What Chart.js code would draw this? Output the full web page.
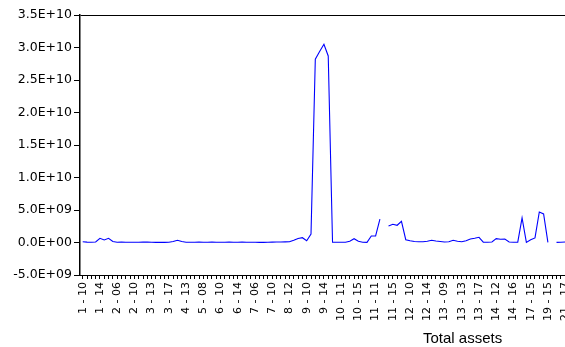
<!DOCTYPE html>
<html>
<head>
<meta charset="utf-8">
<script src="https://cdn.jsdelivr.net/npm/chart.js@4.4.1/dist/chart.umd.min.js"></script>
<style>
  html, body { margin: 0; padding: 0; background: #fff; }
  body { width: 565px; height: 347px; overflow: hidden; position: relative; }
  #wrap { position: absolute; left: 0; top: 0; width: 590px; height: 347px; }
  #title { position: absolute; left: 423px; top: 330px; font-family: "Liberation Sans", Arial, sans-serif;
           font-size: 15px; line-height: 1; color: #000; white-space: nowrap; }
</style>
</head>
<body>
<div id="wrap"><canvas id="c" width="590" height="347"></canvas></div>
<div id="title">Total assets</div>
<script>
// Tick labels (one every 4 observations)
const tickLabels = ['1 - 10','1 - 14','2 - 06','2 - 10','3 - 13','3 - 17','4 - 13','5 - 08','6 - 10','6 - 14',
  '7 - 06','7 - 10','8 - 12','9 - 10','9 - 14','10 - 11','10 - 15','11 - 11','11 - 15','12 - 10','12 - 14',
  '13 - 09','13 - 13','13 - 17','14 - 12','14 - 16','17 - 15','19 - 15','21 - 17'];

// Total assets, one value per observation (null = missing)
const totalAssets = [
  1.2e8, 0.6e8, 0.5e8, 0.8e8, 6.5e8, 3.9e8, 6.5e8, 1.5e8, 0.4e8, 0.8e8,
  0.5e8, 0.3e8, 0.4e8, 0.5e8, 0.6e8, 0.8e8, 0.4e8, 0.2e8, 0.2e8, 0.2e8,
  0.3e8, 1.5e8, 3.4e8, 1.5e8, 0.5e8, 0.4e8, 0.3e8, 0.8e8, 0.5e8, 0.4e8,
  0.6e8, 0.5e8, 0.4e8, 0.5e8, 0.6e8, 0.5e8, 0.4e8, 0.5e8, 0.4e8, 0.3e8,
  0.3e8, 0.2e8, 0.2e8, 0.4e8, 0.6e8, 0.8e8, 0.8e8, 1.0e8, 1.2e8, 3.5e8,
  6.2e8, 7.4e8, 2.8e8, 1.3e9, 2.82e10, 2.94e10, 3.05e10, 2.87e10, 0.5e8, 0.5e8,
  0.5e8, 0.5e8, 2.0e8, 5.9e8, 2.0e8, 0.5e8, 0.2e8, 1.0e9, 1.0e9, 3.6e9,
  null, 2.54e9, 2.8e9, 2.65e9, 3.26e9, 4.3e8, 2.8e8, 1.5e8, 1.2e8, 1.2e8,
  1.8e8, 3.4e8, 2.3e8, 1.5e8, 0.8e8, 1.1e8, 3.4e8, 1.8e8, 1.2e8, 2.8e8,
  5.4e8, 6.5e8, 8.0e8, 0.5e8, 0.5e8, 0.8e8, 5.9e8, 5.0e8, 5.4e8, 0.8e8,
  0.5e8, 0.5e8, 3.8e9, 0.2e8, 4.3e8, 7.0e8, 4.7e9, 4.4e9, 0.2e8, null,
  0.2e8, 0.4e8, 0.8e8
];

const labelEvery = 4;

function sci(v) {
  const s = Number(v).toExponential(1);           // e.g. "3.5e+10", "5.0e+9"
  const m = s.match(/^(-?[\d.]+)e([+-])(\d+)$/);
  if (!m) return s;
  return m[1] + 'E' + m[2] + (m[3].length < 2 ? '0' + m[3] : m[3]);
}

const points = totalAssets.map((v, i) => ({ x: i, y: v }));

new Chart(document.getElementById('c'), {
  type: 'line',
  data: {
    datasets: [{
      data: points,
      borderColor: '#0000ff',
      borderWidth: 1.1,
      pointRadius: 0,
      tension: 0,
      spanGaps: false,
      fill: false
    }]
  },
  options: {
    responsive: false,
    animation: false,
    events: [],
    layout: { padding: { top: 15, right: 10, bottom: 0, left: 0 } },
    plugins: { legend: { display: false }, tooltip: { enabled: false }, title: { display: false } },
    scales: {
      x: {
        type: 'linear',
        min: -0.628,
        max: 114.49,
        afterBuildTicks: (scale) => {
          const t = [];
          for (let i = 0; i <= 114; i++) t.push({ value: i });
          scale.ticks = t;
        },
        afterFit: (scale) => { scale.height = 72; },
        grid: { display: true, drawOnChartArea: false, drawTicks: true, tickLength: 4, tickColor: '#000', tickWidth: 1 },
        border: { display: true, color: '#000', width: 1 },
        ticks: {
          autoSkip: false,
          minRotation: 90,
          maxRotation: 90,
          padding: 3,
          color: '#000',
          font: { family: 'DejaVu Sans', size: 11 },
          callback: (value) => (value % labelEvery === 0 && tickLabels[value / labelEvery] !== undefined) ? tickLabels[value / labelEvery] : ''
        }
      },
      y: {
        min: -5e9,
        max: 3.5e10,
        afterFit: (scale) => { scale.width = 80; },
        grid: {
          display: true,
          drawOnChartArea: true,
          drawTicks: true,
          tickLength: 6,
          tickColor: '#000',
          color: (ctx) => (ctx.tick && ctx.tick.value === 3.5e10) ? '#000' : 'rgba(0,0,0,0)',
          lineWidth: 1
        },
        border: { display: true, color: '#000', width: 1.5 },
        ticks: {
          stepSize: 5e9,
          padding: 2,
          color: '#000',
          font: { family: 'DejaVu Sans', size: 12.5 },
          callback: (v) => sci(v)
        }
      }
    }
  }
});
</script>
</body>
</html>
